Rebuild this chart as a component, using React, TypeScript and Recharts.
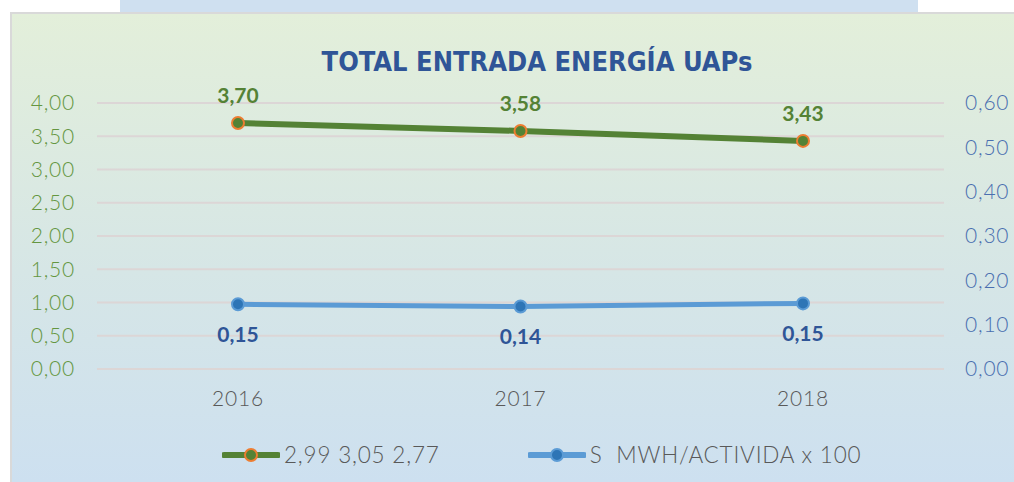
import { LineChart, Line, XAxis, YAxis, CartesianGrid, LabelList, Legend } from "recharts";

// values
const years = ["2016", "2017", "2018"];
const energia = [3.7, 3.58, 3.43];
const mwhActividad = [0.146, 0.141, 0.148];
const leftTicks = [0, 0.5, 1, 1.5, 2, 2.5, 3, 3.5, 4];
const rightTicks = [0, 0.1, 0.2, 0.3, 0.4, 0.5, 0.6];

const seriesNames = ["2,99 3,05 2,77", "S  MWH/ACTIVIDA x 100"];

const data = years.map((year, i) => ({
  year,
  energia: energia[i],
  mwh: mwhActividad[i],
}));

const GREEN = "#548235";
const ORANGE = "#ed7d31";
const BLUE = "#5b9bd5";
const BLUE_DOT = "#2e75b6";
const FONT = "Lato, 'Noto Sans', sans-serif";

const comma = (v: number) => v.toFixed(2).replace(".", ",");

const LegendContent = () => (
  <div
    style={{
      display: "flex",
      justifyContent: "flex-start",
      paddingLeft: 222,
      gap: 88,
      fontFamily: FONT,
      fontWeight: 300,
      letterSpacing: 0.8,
      fontSize: 22.5,
      color: "#595959",
    }}
  >
    {[
      { name: seriesNames[0], line: GREEN, fill: GREEN, stroke: ORANGE },
      { name: seriesNames[1], line: BLUE, fill: BLUE_DOT, stroke: BLUE },
    ].map((item) => (
      <div key={item.name} style={{ display: "flex", alignItems: "center" }}>
        <svg width={58} height={16} style={{ marginRight: 4 }}>
          <line x1={2} y1={8} x2={56} y2={8} stroke={item.line} strokeWidth={6} strokeLinecap="round" />
          <circle cx={29} cy={8} r={6} fill={item.fill} stroke={item.stroke} strokeWidth={2} />
        </svg>
        <span style={{ whiteSpace: "pre" }}>{item.name}</span>
      </div>
    ))}
  </div>
);

const tickStyle = (fill: string) => ({
  fill,
  fontSize: 21,
  fontFamily: FONT,
  fontWeight: 300,
  letterSpacing: 0.8,
});

export default function App() {
  return (
    <div style={{ position: "fixed", left: 0, top: 0, width: 1014, height: 482, background: "#ffffff", overflow: "hidden" }}>
      <div style={{ position: "absolute", left: 120, top: 0, width: 798, height: 12, background: "#cfe0f0" }} />
      <div
        style={{
          position: "absolute",
          left: 10,
          top: 12,
          width: 1004,
          height: 470,
          borderLeft: "2px solid #d9d9d9",
          borderTop: "2px solid #d9d9d9",
          boxSizing: "border-box",
          background: "linear-gradient(to bottom, #e3efda 0%, #d6e6e6 55%, #cde0f0 100%)",
        }}
      />
      <div
        style={{
          position: "absolute",
          left: 0,
          width: 1074,
          top: 46,
          textAlign: "center",
          fontFamily: "'Liberation Sans Narrow', 'DejaVu Sans Condensed', sans-serif",
          fontWeight: 700,
          fontSize: 27,
          color: "#2f5597",
        }}
      >
        TOTAL ENTRADA ENERGÍA UAPs
      </div>
      <div style={{ position: "absolute", left: 0, top: 0 }}>
        <LineChart width={1014} height={482} data={data} margin={{ top: 103, right: 0, bottom: 0, left: 0 }}>
          <CartesianGrid yAxisId="left" vertical={false} stroke="#dcd6d6" strokeWidth={2} />
          <XAxis
            dataKey="year"
            axisLine={false}
            tickLine={false}
            tickMargin={16}
            height={86}
            padding={{ left: 141, right: 141 }}
            tick={tickStyle("#595959")}
          />
          <YAxis
            yAxisId="left"
            orientation="left"
            width={97}
            domain={[0, 4]}
            ticks={leftTicks}
            axisLine={false}
            tickLine={false}
            tickMargin={16}
            tickFormatter={comma}
            tick={tickStyle("#649640")}
          />
          <YAxis
            yAxisId="right"
            orientation="right"
            width={70}
            domain={[0, 0.6]}
            ticks={rightTicks}
            axisLine={false}
            tickLine={false}
            tickMargin={15}
            tickFormatter={comma}
            tick={tickStyle("#4a6fb0")}
          />
          <Legend verticalAlign="bottom" wrapperStyle={{ bottom: 14 }} content={<LegendContent />} />
          <Line
            yAxisId="left"
            dataKey="energia"
            name={seriesNames[0]}
            stroke={GREEN}
            strokeWidth={6}
            dot={{ r: 6, fill: GREEN, stroke: ORANGE, strokeWidth: 2 }}
            isAnimationActive={false}
          >
            <LabelList
              dataKey="energia"
              position="top"
              offset={20}
              formatter={(v: any) => comma(Number(v))}
              style={{ fill: GREEN, fontSize: 21, fontWeight: 700, fontFamily: FONT }}
            />
          </Line>
          <Line
            yAxisId="right"
            dataKey="mwh"
            name={seriesNames[1]}
            stroke={BLUE}
            strokeWidth={5}
            dot={{ r: 6, fill: BLUE_DOT, stroke: BLUE, strokeWidth: 2 }}
            isAnimationActive={false}
          >
            <LabelList
              dataKey="mwh"
              position="bottom"
              offset={23}
              formatter={(v: any) => comma(Number(v))}
              style={{ fill: "#2f5597", fontSize: 21, fontWeight: 700, fontFamily: FONT }}
            />
          </Line>
        </LineChart>
      </div>
    </div>
  );
}
